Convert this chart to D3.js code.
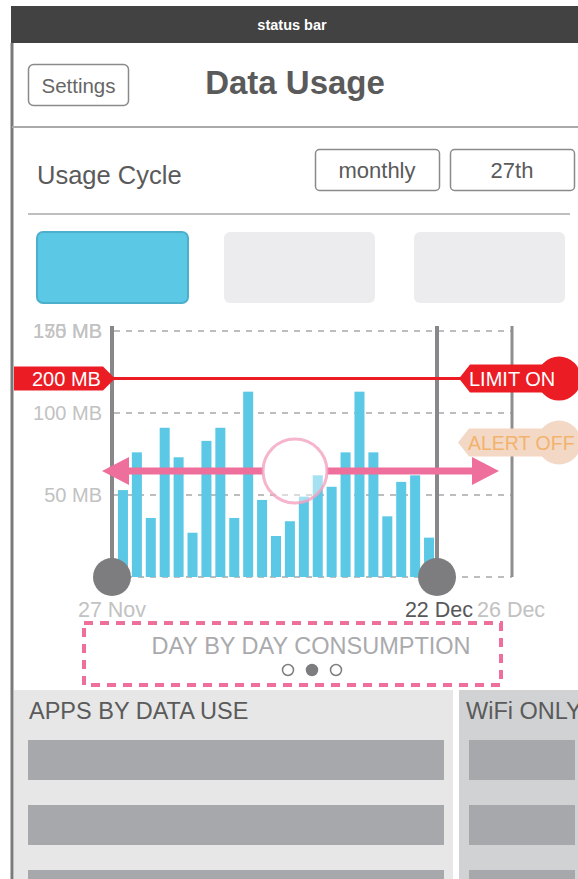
<!DOCTYPE html>
<html>
<head>
<meta charset="utf-8">
<script src="https://cdn.jsdelivr.net/npm/d3@7"></script>
<style>
  body { margin: 0; background: #fff; }
  svg { display: block; font-family: "Liberation Sans", Arial, Helvetica, sans-serif; }
</style>
</head>
<body>
<div id="chart"></div>
<script>
// daily usage (MB), 27 Nov onwards
var days = ["27 Nov", "28 Nov", "29 Nov", "30 Nov", "1 Dec", "2 Dec", "3 Dec", "4 Dec", "5 Dec", "6 Dec",
  "7 Dec", "8 Dec", "9 Dec", "10 Dec", "11 Dec", "12 Dec", "13 Dec", "14 Dec", "15 Dec", "16 Dec",
  "17 Dec", "18 Dec", "19 Dec"];
var usage = [53, 76, 36, 91, 73, 27, 83, 91, 36, 113, 47, 25, 34, 49, 62, 55, 76, 113, 76, 37, 58, 62, 24];
var tickValues = [0, 50, 100, 150];
var tickLabels = ["", "50 MB", "100 MB", "150 MB"];
var topLabelExtra = "175 MB";
var limitLabel = "200 MB";
var limitPos = 121;
var alertPos = 82;
var dateLabels = ["27 Nov", "22 Dec", "26 Dec"];
var tileCount = 3;
var dots = [0, 1, 0];

var W = 578, H = 879;
var svg = d3.select("#chart").append("svg").attr("width", W).attr("height", H);

var grey = "#5a5a5b";
var blue = "#5bc8e6";
var pink = "#ee6f9b";
var red = "#ec1c24";

//status bar
svg.append("rect").attr("x", 11).attr("y", 6).attr("width", W - 11).attr("height", 37).attr("fill", "#424242");
svg.append("text").text("status bar").attr("x", 292).attr("y", 30).attr("text-anchor", "middle")
  .attr("fill", "#fff").style("font-size", "14.5px").style("font-weight", "bold");

//left frame
svg.append("line").attr("x1", 12).attr("x2", 12).attr("y1", 43).attr("y2", H)
  .attr("stroke", "#7a7a7a").attr("stroke-width", 3);

//header
svg.append("rect").attr("x", 28.5).attr("y", 64.5).attr("width", 100).attr("height", 41).attr("rx", 5)
  .attr("fill", "#fff").attr("stroke", "#8a8a8a").attr("stroke-width", 1.5);
svg.append("text").text("Settings").attr("x", 78.5).attr("y", 93).attr("text-anchor", "middle")
  .attr("fill", "#666").style("font-size", "20.5px");
svg.append("text").text("Data Usage").attr("x", 295).attr("y", 94).attr("text-anchor", "middle")
  .attr("fill", grey).style("font-size", "33px").style("font-weight", "bold");
svg.append("line").attr("x1", 12).attr("x2", W).attr("y1", 127).attr("y2", 127)
  .attr("stroke", "#aaa").attr("stroke-width", 2);

//usage cycle
svg.append("text").text("Usage Cycle").attr("x", 37).attr("y", 184)
  .attr("fill", grey).style("font-size", "25.5px");
[["monthly", 315], ["27th", 450]].forEach(function(b) {
  svg.append("rect").attr("x", b[1] + 0.5).attr("y", 149.5).attr("width", 124).attr("height", 41).attr("rx", 4)
    .attr("fill", "#fff").attr("stroke", "#8a8a8a").attr("stroke-width", 1.5);
  svg.append("text").text(b[0]).attr("x", b[1] + 62).attr("y", 178).attr("text-anchor", "middle")
    .attr("fill", grey).style("font-size", "22px");
});
svg.append("line").attr("x1", 28).attr("x2", 570).attr("y1", 214).attr("y2", 214)
  .attr("stroke", "#aaa").attr("stroke-width", 1.5);

//tiles
for (var t = 0; t < tileCount; t++) {
  var tx = [37, 224, 414][t];
  svg.append("rect").attr("x", tx).attr("y", 232).attr("width", 151).attr("height", 71).attr("rx", 6)
    .attr("fill", t == 0 ? blue : "#ececee")
    .attr("stroke", t == 0 ? "#4cb0cc" : "none").attr("stroke-width", 2);
}

//chart scales
var x = d3.scaleBand().domain(days).range([116, 436]).paddingInner(0.28).paddingOuter(0.14);
var y = d3.scaleLinear().domain([0, 150]).range([577, 331]);

//grid
svg.append("g").selectAll("line").data(tickValues).join("line")
  .attr("x1", 114).attr("x2", 512)
  .attr("y1", function(d) { return y(d); }).attr("y2", function(d) { return y(d); })
  .attr("stroke", "#bdbdbd").attr("stroke-width", 2).attr("stroke-dasharray", "6,6");

var labelG = svg.append("g").attr("fill", "#c2c2c2").style("font-size", "20px").attr("text-anchor", "end");
labelG.selectAll("text").data(tickValues).join("text")
  .attr("x", 102).attr("y", function(d) { return y(d) + 7; })
  .text(function(d, i) { return tickLabels[i]; });
labelG.append("text").attr("x", 102).attr("y", y(150) + 7).text(topLabelExtra);

//bars
svg.append("g").selectAll("rect").data(usage).join("rect")
  .attr("x", function(d, i) { return x(days[i]); })
  .attr("width", x.bandwidth())
  .attr("y", function(d) { return y(d); })
  .attr("height", function(d) { return y(0) - y(d); })
  .attr("fill", blue);

//cycle markers
svg.append("line").attr("x1", 112).attr("x2", 112).attr("y1", 326).attr("y2", 577)
  .attr("stroke", "#88888a").attr("stroke-width", 4);
svg.append("line").attr("x1", 437).attr("x2", 437).attr("y1", 326).attr("y2", 577)
  .attr("stroke", "#88888a").attr("stroke-width", 4);
svg.append("line").attr("x1", 512).attr("x2", 512).attr("y1", 326).attr("y2", 577)
  .attr("stroke", "#8e8e90").attr("stroke-width", 3);

//limit line
var ly = y(limitPos);
svg.append("line").attr("x1", 110).attr("x2", 470).attr("y1", ly).attr("y2", ly)
  .attr("stroke", red).attr("stroke-width", 3);
svg.append("path").attr("fill", red)
  .attr("d", "M14," + (ly - 12) + " L103," + (ly - 12) + " L115," + ly + " L103," + (ly + 12) + " L14," + (ly + 12) + " Z");
svg.append("text").text(limitLabel).attr("x", 32).attr("y", ly + 7)
  .attr("fill", "#fff").style("font-size", "20px").style("font-weight", "500");
svg.append("path").attr("fill", red)
  .attr("d", "M459," + ly + " L470," + (ly - 14) + " L560," + (ly - 14) + " L560," + (ly + 14) + " L470," + (ly + 14) + " Z");
svg.append("circle").attr("cx", 559).attr("cy", ly).attr("r", 22).attr("fill", red);
svg.append("text").text("LIMIT ON").attr("x", 469).attr("y", ly + 7)
  .attr("fill", "#fff").style("font-size", "20px");

//alert
var ay = y(alertPos);
svg.append("path").attr("fill", "#f3d8c5")
  .attr("d", "M458," + ay + " L469," + (ay - 14) + " L560," + (ay - 14) + " L560," + (ay + 14) + " L469," + (ay + 14) + " Z");
svg.append("circle").attr("cx", 559).attr("cy", ay).attr("r", 22).attr("fill", "#f3d8c5");
svg.append("text").text("ALERT OFF").attr("x", 468).attr("y", ay + 7)
  .attr("fill", "#f2b36e").style("font-size", "19.5px");

//range arrows + selector
var arY = 471;
svg.append("line").attr("x1", 125).attr("x2", 263).attr("y1", arY).attr("y2", arY)
  .attr("stroke", pink).attr("stroke-width", 7);
svg.append("path").attr("fill", pink)
  .attr("d", "M102," + arY + " L129," + (arY - 14) + " L129," + (arY + 14) + " Z");
svg.append("line").attr("x1", 327).attr("x2", 476).attr("y1", arY).attr("y2", arY)
  .attr("stroke", pink).attr("stroke-width", 7);
svg.append("path").attr("fill", pink)
  .attr("d", "M499," + arY + " L472," + (arY - 14) + " L472," + (arY + 14) + " Z");
svg.append("circle").attr("cx", 295).attr("cy", arY).attr("r", 32)
  .attr("fill", "#fff").attr("fill-opacity", 0.45)
  .attr("stroke", "#f2a3c0").attr("stroke-opacity", 0.8).attr("stroke-width", 3);

//handles
[112, 437].forEach(function(hx) {
  svg.append("circle").attr("cx", hx).attr("cy", 577).attr("r", 19).attr("fill", "#7d7d80");
});

//date labels
svg.append("text").text(dateLabels[0]).attr("x", 112).attr("y", 617).attr("text-anchor", "middle")
  .attr("fill", "#c2c2c2").style("font-size", "21.5px");
svg.append("text").text(dateLabels[1]).attr("x", 473).attr("y", 617).attr("text-anchor", "end")
  .attr("fill", "#58585a").style("font-size", "21.5px");
svg.append("text").text(dateLabels[2]).attr("x", 477).attr("y", 617)
  .attr("fill", "#c2c2c2").style("font-size", "21.5px");

//caption box
svg.append("rect").attr("x", 84).attr("y", 623).attr("width", 417).attr("height", 62)
  .attr("fill", "none").attr("stroke", pink).attr("stroke-width", 4).attr("stroke-dasharray", "9,7");
svg.append("text").text("DAY BY DAY CONSUMPTION").attr("x", 311).attr("y", 654).attr("text-anchor", "middle")
  .attr("fill", "#aaaaad").style("font-size", "23.5px");
svg.append("g").selectAll("circle").data(dots).join("circle")
  .attr("cx", function(d, i) { return 288 + i * 24; }).attr("cy", 670).attr("r", 5.5)
  .attr("fill", function(d) { return d ? "#7d7d80" : "#fff"; })
  .attr("stroke", "#7d7d80").attr("stroke-width", 1.5);

//bottom panels
svg.append("rect").attr("x", 14).attr("y", 690).attr("width", 439).attr("height", H - 690).attr("fill", "#e6e7e6");
svg.append("rect").attr("x", 459).attr("y", 690).attr("width", W - 459).attr("height", H - 690).attr("fill", "#d1d2d4");
svg.append("text").text("APPS BY DATA USE").attr("x", 29).attr("y", 719)
  .attr("fill", grey).style("font-size", "23.5px");
svg.append("text").text("WiFi ONLY").attr("x", 466).attr("y", 719)
  .attr("fill", grey).style("font-size", "23.5px");
[740, 805, 870].forEach(function(ry) {
  svg.append("rect").attr("x", 28).attr("y", ry).attr("width", 416).attr("height", 40).attr("fill", "#a7a8ab");
  svg.append("rect").attr("x", 469).attr("y", ry).attr("width", 106).attr("height", 40).attr("fill", "#a7a8ab");
});
</script>
</body>
</html>
